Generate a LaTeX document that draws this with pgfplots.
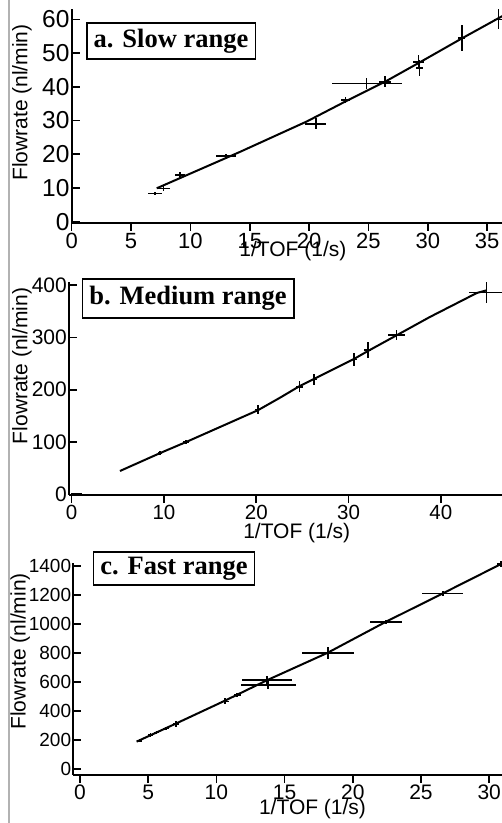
\documentclass[border=0pt]{standalone}
\usepackage{fontspec}
\setmainfont{Liberation Sans}
\newfontfamily\tnr{Liberation Serif}
\usepackage{pgfplots}
\usepackage{pgfplotstable}
\pgfplotsset{compat=1.18}

% measured points: x, y, x error, y error
\pgfplotstableread{
x     y      ex    ey
7.02  8.4    0.56  0.5
7.72  9.8    0.56  0.8
9.12  13.9   0.42  0.8
13.0  19.5   0.84  0.7
20.56 29.0   0.9   1.6
23.08 36.1   0.4   1.0
24.85 41.0   2.95  1.7
26.4  41.5   0.5   1.7
29.2  47.4   0.45  2.0
29.3  45.5   0.3   2.3
32.86 54.5   0.3   3.8
35.94 60.0   0.4   3.0
}\slowdata
\pgfplotstableread{
x     y
7.16  9.9
14.18 20.7
17.55 26.1
19.8  29.7
23.2  35.9
26.4  41.5
29.3  47.2
32.9  54.4
36.3  61.0
}\slowfit

\pgfplotstableread{
x     y      ex    ey
0.5   1      0.6   0
9.57  79.5   0.25  4
12.38 100.6  0.3   4
20.2  162.5  0.35  8
24.66 205.7  0.35  10
26.28 219.9  0.35  10
30.58 258    0.35  12
32.07 275.9  0.35  15
35.2  304.6  0.9   10
44.96 385.5  1.9   20
}\meddata
\pgfplotstableread{
x     y
5.23  44.6
9.6   79
12.4  100
20.2  161
22.6  185
24.7  207
26.3  221
30.6  259
32.1  274
35.2  304
38.8  339
43.9  385
44.96 390
}\medfit

\pgfplotstableread{
x     y      ex    ey
4.35  193    0.2   12
5.18  233    0.2   12
5.62  251    0.2   12
6.3   279    0.2   12
7.04  309    0.25  20
10.63 465    0.3   20
11.52 509    0.25  15
13.73 612    1.84  25
13.79 578    2.02  30
18.2  800    1.92  40
22.43 1015   1.19  15
26.6  1211   1.5   15
30.88 1414   0.3   20
}\fastdata
\pgfplotstableread{
x     y
4.15  187
7.04  312
10.63 470
13.73 612
18.14 800
22.43 1015
26.6  1211
31.0  1420
}\fastfit

\pgfplotsset{
  flow/.style={
    scale only axis, anchor=south west, clip=false,
    axis x line*=bottom, axis y line*=left,
    xtick pos=lower, ytick pos=lower,
    axis line style={line width=1.8pt, -},
    xtick align=outside, ytick align=inside,
    major tick length=8pt,
    tick style={black, line width=1.6pt},
    xticklabel style={inner ysep=2pt},
    yticklabel style={inner xsep=2pt},
    label style={font=\fontsize{21pt}{23pt}\selectfont},
    /pgf/number format/assume math mode=true,
    /pgf/number format/1000 sep={},
    xlabel={1/TOF (1/s)}, ylabel={Flowrate (nl/min)},
  },
  xfs/.style={xticklabel style={font=\fontsize{#1}{#1}\selectfont}},
  yfs/.style={yticklabel style={font=\fontsize{#1}{#1}\selectfont}},
  pts/.style={black, line width=1.6pt, mark=none, draw=none,
    error bars/.cd, x dir=both, x explicit, y dir=both, y explicit,
    error mark=none, error bar style={line width=1.6pt, black}},
  fit/.style={black, line width=2pt, mark=none},
}
\tikzset{
  ttl/.style={draw, line width=1.6pt, fill=white, inner xsep=7pt,
    font=\tnr\bfseries\fontsize{26.5pt}{28pt}\selectfont, anchor=center},
}

\begin{document}
\begin{tikzpicture}
\path[use as bounding box] (0,0) rectangle (502pt,823pt);
\clip (0,0) rectangle (502pt,823pt);
\draw[gray!60, line width=2pt] (8.5pt,0) -- (8.5pt,823pt);

% a. slow
\begin{axis}[flow, at={(71.7pt,600.3pt)},
  width=430.3pt, height=213.4pt,
  xmin=0, xmax=36.25, ymin=-0.3, ymax=62.97,
  xtick={0,5,...,35}, ytick={0,10,...,60},
  xfs=22pt, yfs=24.5pt,
  xlabel style={at={(axis description cs:0.514,-0.1326)}, anchor=center},
  ylabel style={at={(axis description cs:-0.1155,0.563)}, anchor=center},
]
\addplot[fit] table[x=x,y=y] {\slowfit};
\addplot[pts] table[x=x,y=y,x error=ex,y error=ey] {\slowdata};
\node[ttl, minimum height=36pt] at (axis description cs:0.2308,0.8515) {a. Slow range};
\end{axis}

% b. medium
\begin{axis}[flow, at={(69pt,328pt)},
  width=433pt, height=213.3pt,
  xmin=-0.29, xmax=46.62, ymin=-1.3, ymax=406.5,
  xtick={0,10,...,40}, ytick={0,100,...,400},
  xfs=20.5pt, yfs=21pt,
  xlabel style={at={(axis description cs:0.526,-0.178)}, anchor=center},
  ylabel style={at={(axis description cs:-0.1085,0.605)}, anchor=center},
]
\addplot[fit] table[x=x,y=y] {\medfit};
\addplot[pts] table[x=x,y=y,x error=ex,y error=ey] {\meddata};
\node[ttl, minimum height=39pt] at (axis description cs:0.275,0.921) {b. Medium range};
\end{axis}

% c. fast
\begin{axis}[flow, at={(73.3pt,48pt)},
  width=428.7pt, height=212.3pt,
  xmin=-0.49, xmax=30.94, ymin=-43.5, ymax=1423,
  xtick={0,5,...,30}, ytick={0,200,...,1400},
  xfs=21pt, yfs=19pt,
  xlabel style={at={(axis description cs:0.558,-0.160)}, anchor=center},
  ylabel style={at={(axis description cs:-0.124,0.582)}, anchor=center},
]
\addplot[fit] table[x=x,y=y] {\fastfit};
\addplot[pts] table[x=x,y=y,x error=ex,y error=ey] {\fastdata};
\node[ttl, minimum height=33pt] at (axis description cs:0.235,0.973) {c. Fast range};
\end{axis}
\end{tikzpicture}
\end{document}
